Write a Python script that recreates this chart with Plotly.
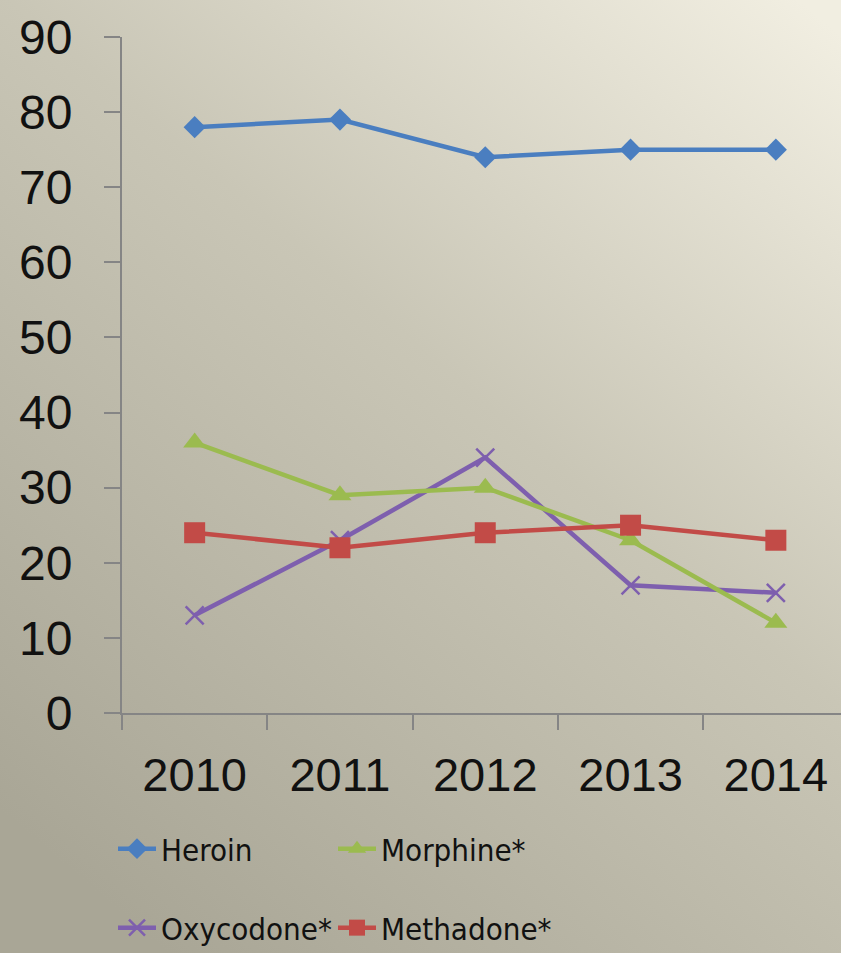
import base64
import plotly.graph_objects as go

years = ["2010", "2011", "2012", "2013", "2014"]
heroin = [78, 79, 74, 75, 75]
morphine = [36, 29, 30, 23, 12]
oxycodone = [13, 23, 34, 17, 16]
methadone = [24, 22, 24, 25, 23]
y_ticks = [0, 10, 20, 30, 40, 50, 60, 70, 80, 90]

W, H = 841, 953
ML, MR, MT, MB = 122, 0, 37, 240

svg = f'''<svg xmlns="http://www.w3.org/2000/svg" width="{W}" height="{H}" preserveAspectRatio="none">
<defs><linearGradient id="g" x1="0.95" y1="0" x2="0.2" y2="1">
<stop offset="0" stop-color="#f1eee1"/>
<stop offset="0.45" stop-color="#c9c6b6"/>
<stop offset="1" stop-color="#a9a696"/>
</linearGradient></defs>
<rect width="{W}" height="{H}" fill="url(#g)"/></svg>'''
src = "data:image/svg+xml;base64," + base64.b64encode(svg.encode()).decode()

pw = W - ML - MR
ph = H - MT - MB

fig = go.Figure()
LW = 4.5
fig.add_trace(go.Scatter(x=years, y=heroin, name="Heroin", mode="lines+markers",
                         line=dict(color="#4a7ec0", width=LW), legend="legend",
                         marker=dict(symbol="diamond", size=17, color="#4a7ec0")))
fig.add_trace(go.Scatter(x=years, y=oxycodone, name="Oxycodone*", mode="lines+markers",
                         line=dict(color="#7e5fae", width=LW), legend="legend2",
                         marker=dict(symbol="x-thin", size=18, line=dict(color="#7e5fae", width=2.5))))
fig.add_trace(go.Scatter(x=years, y=morphine, name="Morphine*", mode="lines+markers",
                         line=dict(color="#9bbb4f", width=LW), legend="legend",
                         marker=dict(symbol="triangle-up", size=20, color="#9bbb4f")))
fig.add_trace(go.Scatter(x=years, y=methadone, name="Methadone*", mode="lines+markers",
                         line=dict(color="#c24b47", width=LW), legend="legend2",
                         marker=dict(symbol="square", size=21, color="#c24b47")))

leg_font = dict(family="DejaVu Sans Condensed, DejaVu Sans, sans-serif", size=31, color="#111")
leg_common = dict(orientation="h", xref="container", yref="container", xanchor="left", yanchor="middle",
                  entrywidth=167, entrywidthmode="pixels", font=leg_font,
                  bgcolor="rgba(0,0,0,0)", itemwidth=38, borderwidth=0)

fig.update_layout(
    width=W, height=H,
    margin=dict(l=ML, r=MR, t=MT, b=MB, autoexpand=False),
    paper_bgcolor="rgba(0,0,0,0)",
    plot_bgcolor="rgba(0,0,0,0)",
    showlegend=True,
    font=dict(family="Liberation Sans, sans-serif", color="#111"),
    images=[dict(source=src, xref="paper", yref="paper",
                 x=-ML / pw, y=1 + MT / ph, sizex=W / pw, sizey=H / ph,
                 xanchor="left", yanchor="top", sizing="stretch", layer="below")],
    xaxis=dict(type="category", range=[-0.5, (841 - 122) / 145.3 - 0.5],
               tickson="boundaries", ticks="outside", ticklen=15, tickcolor="#858585", tickwidth=2,
               showline=True, linecolor="#858585", linewidth=2, showgrid=False, zeroline=False,
               tickfont=dict(family="Liberation Sans, sans-serif", size=47, color="#111"),
               ticklabelstandoff=20),
    yaxis=dict(range=[0, 90], tickvals=y_ticks, ticks="outside", ticklen=16, tickcolor="#858585", tickwidth=2,
               showline=True, linecolor="#858585", linewidth=2, showgrid=False, zeroline=False,
               tickfont=dict(family="Liberation Sans, sans-serif", size=48, color="#111"),
               ticklabelstandoff=22),
    legend=dict(x=113 / W, y=1 - 849 / H, **leg_common),
    legend2=dict(x=113 / W, y=1 - 928 / H, **leg_common),
)

fig.write_html("out.html", config={"displayModeBar": False},
               post_script="document.body.style.margin='0';")
